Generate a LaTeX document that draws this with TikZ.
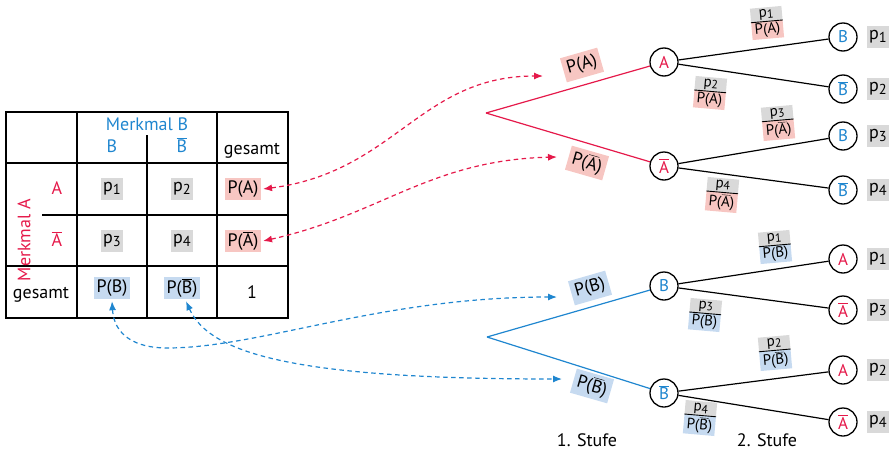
\documentclass[tikz,border=0pt]{standalone}
\usepackage{fontspec}
\setmainfont{PT Sans}
\usetikzlibrary{shapes.multipart,arrows.meta}
\definecolor{rd}{HTML}{E5194A}
\definecolor{bl}{HTML}{1F86CF}
\definecolor{pinkf}{HTML}{F7C6C2}
\definecolor{bluef}{HTML}{C6DAF0}
\definecolor{grayf}{HTML}{D9D9D9}
% complement bar and indexed p
\newcommand\ovl[1]{$\overline{\mbox{#1}}$}
\newcommand\ps[1]{p\raisebox{-0.3ex}{\scalebox{0.8}{#1}}}
\tikzset{
  tbl/.style={line width=1.8pt},
  txt/.style={font=\fontsize{18}{20}\selectfont, inner sep=0pt, anchor=base},
  boxbase/.style={font=\fontsize{18}{20}\selectfont, inner xsep=2.5pt, inner ysep=0pt,
    minimum height=22pt},
  gbox/.style={boxbase, fill=grayf},
  pbox/.style={boxbase, fill=pinkf},
  bbox/.style={boxbase, fill=bluef},
  circ/.style={circle, draw, line width=1.3pt, fill=white, minimum size=28pt,
    inner sep=0pt, font=\fontsize{17}{19}\selectfont},
  edge/.style={line width=1.2pt},
  frc/.style={rectangle split, rectangle split parts=2,
    rectangle split part fill={grayf,#1}, inner xsep=3pt, inner ysep=1.5pt,
    font=\fontsize{15}{16}\selectfont},
  fline/.style={line width=0.9pt},
  darr/.style={dash pattern=on 4.5pt off 3.5pt, line width=1.2pt,
    {Latex[length=9pt,width=7pt]}-{Latex[length=9pt,width=7pt]}},
}
\begin{document}
\begin{tikzpicture}[x=1pt,y=-1pt]
\useasboundingbox (0,0) rectangle (891,450);

% ---------- contingency table ----------
\draw[tbl] (6,112) rectangle (288,318);
\draw[tbl] (77,112) -- (77,318);
\draw[tbl] (217,112) -- (217,318);
\draw[tbl] (147,135) -- (147,318);
\draw[tbl] (6,163) -- (288,163);
\draw[tbl] (42,215) -- (288,215);
\draw[tbl] (6,266) -- (288,266);

\node[txt, text=bl] (mb) at (147,130) {Merkmal B};
\node[txt, text=bl] (hb) at (112,152) {B};
\node[txt, text=bl] (hbb) at (182,152) {\ovl{B}};
\node[txt] (hg) at (252,154) {gesamt};
\node[font=\fontsize{18}{20}\selectfont, text=rd, rotate=90, inner sep=0pt] (ma) at (24,240) {Merkmal A};
\node[txt, text=rd] (ha) at (57,194) {A};
\node[txt, text=rd] (hab) at (57,246) {\ovl{A}};
\node[gbox] (c1) at (112,189) {\ps{1}};
\node[gbox] (c2) at (182,189) {\ps{2}};
\node[gbox] (c3) at (112,241) {\ps{3}};
\node[gbox] (c4) at (182,241) {\ps{4}};
\node[pbox] (pa) at (243,189) {P(A)};
\node[pbox] (pab) at (243,241) {P(\ovl{A})};
\node[bbox] (pb) at (112,288) {P(B)};
\node[bbox] (pbb) at (182,288) {P(\ovl{B})};
\node[txt] (g2) at (41,298) {gesamt};
\node[txt] (one) at (252,298) {1};

% ---------- tree: first A, then B ----------
\coordinate (r1) at (486,113);
\node[circ, text=rd] (nA) at (664,62) {A};
\node[circ, text=rd] (nAb) at (664,166) {\ovl{A}};
\node[circ, text=bl] (l1) at (843,37) {B};
\node[circ, text=bl] (l2) at (843,89) {\ovl{B}};
\node[circ, text=bl] (l3) at (843,136) {B};
\node[circ, text=bl] (l4) at (843,190) {\ovl{B}};
\draw[edge, rd] (r1) -- (nA);
\draw[edge, rd] (r1) -- (nAb);
\draw[edge] (nA) -- (l1);
\draw[edge] (nA) -- (l2);
\draw[edge] (nAb) -- (l3);
\draw[edge] (nAb) -- (l4);
\node[gbox] (q1) at (878,37) {\ps{1}};
\node[gbox] (q2) at (878,89) {\ps{2}};
\node[gbox] (q3) at (878,136) {\ps{3}};
\node[gbox] (q4) at (878,190) {\ps{4}};
\node[pbox, rotate=16, minimum height=25pt, inner xsep=4pt] (ta) at (582,65) {P(A)};
\node[pbox, rotate=-16, minimum height=25pt, inner xsep=4pt] (tab) at (587,163) {P(\ovl{A})};
\node[frc=pinkf, rotate=5] (f1) at (767,23) {\ps{1}\nodepart{two}P(A)};
\node[frc=pinkf, rotate=-5] (f2) at (710,93) {\ps{2}\nodepart{two}P(A)};
\node[frc=pinkf, rotate=5] (f3) at (778,123) {\ps{3}\nodepart{two}P(\ovl{A})};
\node[frc=pinkf, rotate=-5] (f4) at (722,195) {\ps{4}\nodepart{two}P(\ovl{A})};

% ---------- tree: first B, then A ----------
\coordinate (r2) at (487,337);
\node[circ, text=bl] (nB) at (664,286) {B};
\node[circ, text=bl] (nBb) at (664,393) {\ovl{B}};
\node[circ, text=rd] (m1) at (843,259) {A};
\node[circ, text=rd] (m2) at (843,310) {\ovl{A}};
\node[circ, text=rd] (m3) at (843,370) {A};
\node[circ, text=rd] (m4) at (843,422) {\ovl{A}};
\draw[edge, bl] (r2) -- (nB);
\draw[edge, bl] (r2) -- (nBb);
\draw[edge] (nB) -- (m1);
\draw[edge] (nB) -- (m2);
\draw[edge] (nBb) -- (m3);
\draw[edge] (nBb) -- (m4);
\node[gbox] (s1) at (878,259) {\ps{1}};
\node[gbox] (s2) at (878,310) {\ps{3}};
\node[gbox] (s3) at (878,370) {\ps{2}};
\node[gbox] (s4) at (878,422) {\ps{4}};
\node[bbox, rotate=16, minimum height=25pt, inner xsep=4pt] (tb) at (590,288) {P(B)};
\node[bbox, rotate=-16, minimum height=25pt, inner xsep=4pt] (tbb) at (592,386) {P(\ovl{B})};
\node[frc=bluef, rotate=5] (f5) at (775,247) {\ps{1}\nodepart{two}P(B)};
\node[frc=bluef, rotate=-5] (f6) at (705,315) {\ps{3}\nodepart{two}P(B)};
\node[frc=bluef, rotate=5] (f7) at (775,353) {\ps{2}\nodepart{two}P(\ovl{B})};
\node[frc=bluef, rotate=-5] (f8) at (700,418) {\ps{4}\nodepart{two}P(\ovl{B})};

\foreach \f in {f1,f2,f3,f4,f5,f6,f7,f8}
  \draw[fline] (\f.text split west) -- (\f.text split east);

\node[txt] (st1) at (587,446) {1. Stufe};
\node[txt] (st2) at (767,446) {2. Stufe};

% ---------- dashed links between table and trees ----------
\coordinate (ea) at (543,76);
\coordinate (eab) at (557,157);
\coordinate (eb) at (557,297);
\coordinate (ebb) at (562,379);
\draw[darr, rd] ([xshift=2pt]pa.east) .. controls (395,172) and (420,76) .. (ea);
\draw[darr, rd] ([xshift=2pt]pab.east) .. controls (380,215) and (430,160) .. (eab);
\draw[darr, bl] ([yshift=-2pt]pb.south) .. controls (114,335) and (135,348) .. (167,348)
  .. controls (260,348) and (380,297) .. (eb);
\draw[darr, bl] ([xshift=4pt,yshift=-2pt]pbb.south) .. controls (210,355) and (300,379) .. (ebb);
\end{tikzpicture}
\end{document}
